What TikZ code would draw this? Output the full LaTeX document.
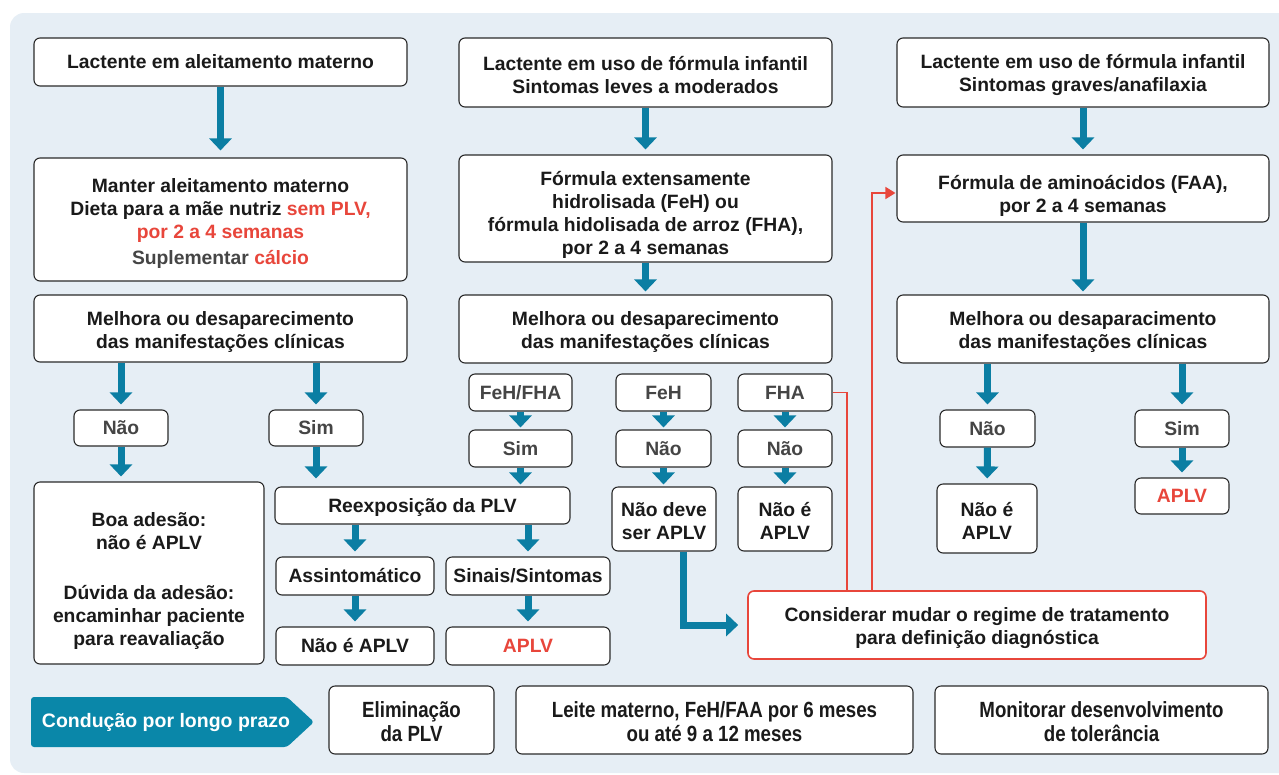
\documentclass[tikz,border=0pt]{standalone}
\usepackage{fontspec}
\setmainfont{Liberation Sans}
\newfontfamily\narrowfont[FakeStretch=0.85]{Liberation Sans}
\usetikzlibrary{arrows.meta,calc}
\definecolor{bgc}{HTML}{E6EEF5}
\definecolor{teal1}{HTML}{0B7EA3}
\definecolor{tealbox}{HTML}{0A87A9}
\definecolor{redc}{HTML}{E8463B}
\definecolor{txt}{HTML}{1A1A1A}
\definecolor{grayt}{HTML}{454545}
\definecolor{lnc}{HTML}{2A2A2A}
\newcommand\tp[1]{\rule{0pt}{#1pt}}
\begin{document}
\begin{tikzpicture}[x=1pt,y=-1pt,
 box/.style={draw=lnc, line width=1.1pt, rounded corners=6pt, fill=white, align=center, text=txt, inner sep=0pt, font=\fontsize{19.3}{23}\selectfont\bfseries},
 gbox/.style={box, text=grayt},
 nbox/.style={box, font=\narrowfont\fontsize{22}{24}\selectfont\bfseries},
 arr/.style={draw=teal1, line width=7pt, -{Triangle[width=22pt,length=12pt]}, shorten >=5pt},
 sarr/.style={arr, shorten >=2pt},
 rline/.style={draw=redc, line width=1.6pt},
]
\useasboundingbox (0,0) rectangle (1279,774);
\clip (0,0) rectangle (1279,774);
\fill[bgc, rounded corners=14pt] (10,13) rectangle (1300,773);

% column 1
\node[box, minimum width=373pt, minimum height=48pt] (a1) at (220.5,62) {Lactente em aleitamento materno};
\node[box, minimum width=373pt, minimum height=123pt] (a2) at (220.5,219.5) {\tp{21}Manter aleitamento materno\\Dieta para a mãe nutriz \textcolor{redc}{sem PLV,}\\\textcolor{redc}{por 2 a 4 semanas}\\[3pt]\textcolor{grayt}{Suplementar} \textcolor{redc}{cálcio}};
\node[box, minimum width=373pt, minimum height=67pt] (a3) at (220.5,328.5) {\tp{20}Melhora ou desaparecimento\\das manifestações clínicas};
\node[gbox, minimum width=94pt, minimum height=36pt] (nao1) at (121,428) {Não};
\node[gbox, minimum width=94pt, minimum height=36pt] (sim1) at (316,428) {Sim};
\node[box, minimum width=230pt, minimum height=182pt] (boa) at (149,573) {\tp{29}Boa adesão:\\não é APLV\\[27pt]Dúvida da adesão:\\encaminhar paciente\\para reavaliação};
\node[box, minimum width=295pt, minimum height=37pt] (reexp) at (422.5,505.5) {\tp{17}Reexposição da PLV};
\node[box, minimum width=158pt, minimum height=38pt] (assint) at (355,576) {Assintomático};
\node[box, minimum width=164pt, minimum height=38pt] (sinais) at (528,576) {Sinais/Sintomas};
\node[box, minimum width=158pt, minimum height=38pt] (naoe1) at (355,646) {Não é APLV};
\node[box, minimum width=164pt, minimum height=38pt, text=redc] (aplv1) at (528,646) {APLV};

% column 2
\node[box, minimum width=373pt, minimum height=69pt] (b1) at (645.5,72.5) {\tp{19}Lactente em uso de fórmula infantil\\Sintomas leves a moderados};
\node[box, minimum width=373pt, minimum height=107pt] (b2) at (645.5,208.5) {\tp{27}Fórmula extensamente\\hidrolisada (FeH) ou\\fórmula hidolisada de arroz (FHA),\\por 2 a 4 semanas};
\node[box, minimum width=373pt, minimum height=68pt] (b3) at (645.5,329) {\tp{20}Melhora ou desaparecimento\\das manifestações clínicas};
\node[gbox, minimum width=103pt, minimum height=37pt] (fehfha) at (520.5,392.5) {FeH/FHA};
\node[gbox, minimum width=95pt, minimum height=37pt] (feh) at (663.5,392.5) {FeH};
\node[gbox, minimum width=94pt, minimum height=37pt] (fha) at (785,392.5) {FHA};
\node[gbox, minimum width=103pt, minimum height=37pt] (sim2) at (520.5,448.5) {Sim};
\node[gbox, minimum width=95pt, minimum height=37pt] (nao2) at (663.5,448.5) {Não};
\node[gbox, minimum width=94pt, minimum height=37pt] (nao3) at (785,448.5) {Não};
\node[box, minimum width=104pt, minimum height=64pt] (naodeve) at (664,519) {\tp{18}Não deve\\ser APLV};
\node[box, minimum width=94pt, minimum height=64pt] (naoe2) at (785,519) {\tp{18}Não é\\APLV};
\node[box, draw=redc, line width=1.6pt, minimum width=458pt, minimum height=68pt] (consid) at (977,625) {\tp{20}Considerar mudar o regime de tratamento\\para definição diagnóstica};

% column 3
\node[box, minimum width=372pt, minimum height=69pt] (c1) at (1083,72.5) {\tp{19}Lactente em uso de fórmula infantil\\Sintomas graves/anafilaxia};
\node[box, minimum width=372pt, minimum height=67pt] (c2) at (1083,188.5) {\tp{28}Fórmula de aminoácidos (FAA),\\por 2 a 4 semanas};
\node[box, minimum width=372pt, minimum height=68pt] (c3) at (1083,329) {\tp{20}Melhora ou desaparacimento\\das manifestações clínicas};
\node[gbox, minimum width=95pt, minimum height=37pt] (nao4) at (987.5,428.5) {Não};
\node[gbox, minimum width=94pt, minimum height=37pt] (sim4) at (1182,428.5) {Sim};
\node[box, minimum width=100pt, minimum height=69pt] (naoe4) at (987,518.5) {\tp{18}Não é\\APLV};
\node[box, minimum width=94pt, minimum height=36pt, text=redc] (aplv4) at (1182,496) {APLV};

% bottom row
\fill[tealbox, rounded corners=3pt] (31,697) -- (287,697) -- (314,722) -- (287,747) -- (31,747) -- cycle;
\node[text=white, inner sep=0pt, font=\fontsize{19.5}{23}\selectfont\bfseries] (cond) at (166,722) {Condução por longo prazo};
\node[nbox, minimum width=165pt, minimum height=68pt] (elim) at (411.5,720) {\tp{20}Eliminação\\da PLV};
\node[nbox, minimum width=397pt, minimum height=68pt] (leite) at (714.5,720) {\tp{20}Leite materno, FeH/FAA por 6 meses\\ou até 9 a 12 meses};
\node[nbox, minimum width=333pt, minimum height=68pt] (monit) at (1101.5,720) {\tp{20}Monitorar desenvolvimento\\de tolerância};

% arrows column 1
\draw[arr, shorten >=7pt] (a1) -- (a2);
\draw[arr] (nao1 |- a3.south) -- (nao1.north);
\draw[arr] (sim1 |- a3.south) -- (sim1.north);
\draw[arr] (nao1.south) -- (nao1.south |- boa.north);
\draw[arr, shorten >=8pt] (sim1.south) -- (sim1.south |- reexp.north);
\draw[arr] (assint |- reexp.south) -- (assint.north);
\draw[arr] (sinais |- reexp.south) -- (sinais.north);
\draw[arr] (assint) -- (naoe1);
\draw[arr] (sinais) -- (aplv1);

% arrows column 2
\draw[arr] (b1) -- (b2);
\draw[arr, shorten >=3pt] (b2) -- (b3);
\draw[sarr] (fehfha) -- (sim2);
\draw[sarr] (feh) -- (nao2);
\draw[sarr] (fha) -- (nao3);
\draw[sarr] (sim2.south) -- (sim2.south |- reexp.north);
\draw[sarr] (nao2.south) -- (nao2.south |- naodeve.north);
\draw[sarr] (nao3) -- (naoe2);
\draw[arr, shorten >=9pt] ($(naodeve.south)+(19,0)$) |- (consid.west);

% red connectors
\draw[rline] (fha.east) -| ($(consid.north west)+(100,0)$);
\draw[rline, -{Triangle[width=12pt,length=10pt]}, shorten >=1pt] ($(consid.north west)+(125,0)$) |- ($(c2.west)+(0,4.5)$);

% arrows column 3
\draw[arr] (c1) -- (c2);
\draw[arr, shorten >=3pt] (c2) -- (c3);
\draw[arr] (nao4 |- c3.south) -- (nao4.north);
\draw[arr] (sim4 |- c3.south) -- (sim4.north);
\draw[arr] (nao4) -- (naoe4);
\draw[arr] (sim4) -- (aplv4);
\end{tikzpicture}
\end{document}
